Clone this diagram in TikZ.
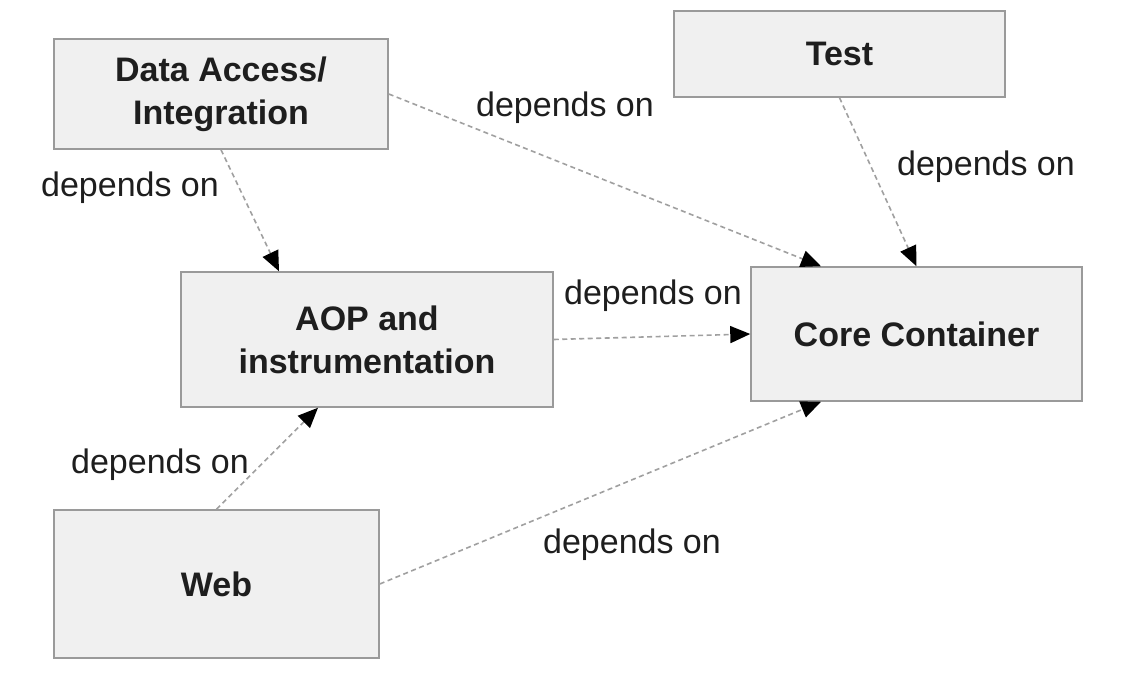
\documentclass[tikz,border=0pt]{standalone}
\usepackage{fontspec}
\setmainfont{Liberation Sans}
\usetikzlibrary{arrows.meta}
\definecolor{boxfill}{HTML}{F0F0F0}
\definecolor{boxline}{HTML}{9A9A9A}
\definecolor{lineclr}{HTML}{A0A0A0}
\definecolor{txt}{HTML}{1E1E1E}
\tikzset{
  box/.style={draw=boxline, line width=1.5pt, fill=boxfill, inner sep=0pt,
    align=center, text=txt, font=\fontsize{34}{43}\selectfont\bfseries},
  dep/.style={draw=lineclr, line width=1.6pt, dash pattern=on 5pt off 3.5pt,
    -{Triangle[length=20pt,width=17pt,black]}},
  lbl/.style={text=txt, font=\fontsize{34}{40}\selectfont, inner sep=0pt}
}
\begin{document}
\begin{tikzpicture}[x=1pt,y=-1pt]
\useasboundingbox (0,0) rectangle (1126,692);
\fill[white] (0,0) rectangle (1126,692);
\node[box, minimum width=334pt, minimum height=110pt] (da) at (221,94) {Data Access/\\Integration};
\node[box, minimum width=331pt, minimum height=86pt] (test) at (839.5,54) {Test};
\node[box, minimum width=372pt, minimum height=135pt] (aop) at (367,339.5) {AOP and\\instrumentation};
\node[box, minimum width=331pt, minimum height=134pt] (core) at (916.5,334) {Core Container};
\node[box, minimum width=325pt, minimum height=148pt] (web) at (216.5,584) {Web};

\draw[dep] (da.east) -- ([xshift=-95.5pt]core.north);
\draw[dep] (test.south) -- (core.north);
\draw[dep] (da.south) -- ([xshift=-88pt]aop.north);
\draw[dep] (aop.east) -- (core.west);
\draw[dep] (web.north) -- ([xshift=-49pt]aop.south);
\draw[dep] (web.east) -- ([xshift=-95.5pt]core.south);

\node[lbl] (l1) at (565,108) {depends on};
\node[lbl] (l2) at (986,167) {depends on};
\node[lbl] (l3) at (130,188) {depends on};
\node[lbl] (l4) at (653,296) {depends on};
\node[lbl] (l5) at (160,465) {depends on};
\node[lbl] (l6) at (632,545) {depends on};
\end{tikzpicture}
\end{document}
